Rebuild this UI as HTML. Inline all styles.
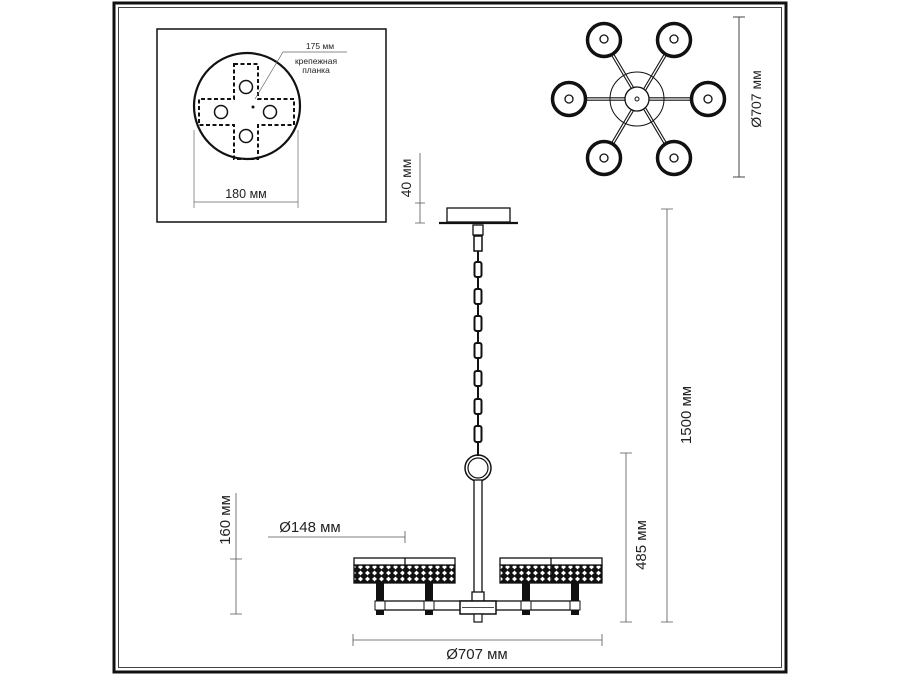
<!DOCTYPE html>
<html><head><meta charset="utf-8"><style>
body{margin:0;background:#fff}
svg{display:block}
text{font-family:"Liberation Sans",sans-serif;fill:#222}
</style></head><body>
<svg width="900" height="675" viewBox="0 0 900 675" xmlns="http://www.w3.org/2000/svg">
<defs>
<pattern id="mesh" width="7" height="6" patternUnits="userSpaceOnUse">
<rect width="7" height="6" fill="#111"/>
<path d="M3.5 0.6 L6 3 L3.5 5.4 L1 3Z" fill="#fff"/>
</pattern>
</defs>
<rect x="114" y="3" width="672" height="669" fill="none" stroke="#111" stroke-width="3"/>
<rect x="118.5" y="7.5" width="663" height="660" fill="none" stroke="#444" stroke-width="1"/>

<rect x="157" y="29" width="229" height="193" fill="none" stroke="#111" stroke-width="1.5"/>
<circle cx="247" cy="106" r="53" fill="none" stroke="#111" stroke-width="2.2"/>
<path d="M234 64 H258 V99 H294 V125 H258 V159 H234 V125 H199 V99 H234 Z" fill="none" stroke="#111" stroke-width="2" stroke-dasharray="4,2.5"/>
<circle cx="246" cy="87" r="6.5" fill="none" stroke="#111" stroke-width="1.5"/>
<circle cx="246" cy="136" r="6.5" fill="none" stroke="#111" stroke-width="1.5"/>
<circle cx="221" cy="112" r="6.5" fill="none" stroke="#111" stroke-width="1.5"/>
<circle cx="270" cy="112" r="6.5" fill="none" stroke="#111" stroke-width="1.5"/>
<circle cx="253" cy="107" r="1.5" fill="#111"/>
<path d="M255 99 L283 52 H347" fill="none" stroke="#666" stroke-width="0.7"/>
<text x="320" y="49" font-size="8.5" text-anchor="middle">175 мм</text>
<text x="316" y="64" font-size="8.5" text-anchor="middle">крепежная</text>
<text x="316" y="73" font-size="8.5" text-anchor="middle">планка</text>
<path d="M194 130 V208 M298 130 V208 M194 202 H298" stroke="#666" stroke-width="0.7"/>
<text x="246" y="198" font-size="12.5" text-anchor="middle">180 мм</text>

<g stroke="#111" fill="none">
<g stroke-width="3.5">
<line x1="604" y1="40" x2="674" y2="158"/><line x1="674" y1="40" x2="604" y2="158"/><line x1="568" y1="99" x2="707" y2="99"/>
</g>
<g stroke="#fff" stroke-width="1.3">
<line x1="604" y1="40" x2="674" y2="158"/><line x1="674" y1="40" x2="604" y2="158"/><line x1="568" y1="99" x2="707" y2="99"/>
</g>
<circle cx="637" cy="99" r="27" stroke-width="1"/>
<circle cx="637" cy="99" r="12" stroke-width="1.3" fill="#fff"/>
<circle cx="637" cy="99" r="2" stroke-width="1"/>
<g stroke-width="3.5" fill="#fff">
<circle cx="604" cy="40" r="16.5"/><circle cx="674" cy="40" r="16.5"/>
<circle cx="569" cy="99" r="16.5"/><circle cx="708" cy="99" r="16.5"/>
<circle cx="604" cy="158" r="16.5"/><circle cx="674" cy="158" r="16.5"/>
</g>
<g stroke-width="1.3">
<circle cx="604" cy="39" r="4"/><circle cx="674" cy="39" r="4"/>
<circle cx="569" cy="99" r="4"/><circle cx="708" cy="99" r="4"/>
<circle cx="604" cy="158" r="4"/><circle cx="674" cy="158" r="4"/>
</g>
<path d="M739 17 V177 M733 17 H745 M733 177 H745" stroke="#444" stroke-width="1"/>
</g>
<text transform="translate(761,99) rotate(-90)" font-size="14" text-anchor="middle">Ø707 мм</text>

<path d="M420 153 V223 M415 203 H425 M415 223 H425" stroke="#555" stroke-width="0.8"/>
<text transform="translate(411,178) rotate(-90)" font-size="14" text-anchor="middle">40 мм</text>
<rect x="447" y="208" width="63" height="14" fill="#fff" stroke="#111" stroke-width="1.3"/>
<line x1="439" y1="223" x2="518" y2="223" stroke="#111" stroke-width="2.2"/>
<rect x="473" y="225" width="10" height="10" fill="#fff" stroke="#111" stroke-width="1.3"/>
<rect x="474" y="236" width="8" height="15" fill="#fff" stroke="#111" stroke-width="1.5"/>
<line x1="478" y1="251" x2="478" y2="456" stroke="#111" stroke-width="2"/>
<g fill="#fff" stroke="#111" stroke-width="2">
<rect x="474.5" y="262" width="7" height="15" rx="2"/>
<rect x="474.5" y="289" width="7" height="15" rx="2"/>
<rect x="474.5" y="316" width="7" height="15" rx="2"/>
<rect x="474.5" y="343" width="7" height="15" rx="2"/>
<rect x="474.5" y="371" width="7" height="15" rx="2"/>
<rect x="474.5" y="399" width="7" height="15" rx="2"/>
<rect x="474.5" y="426" width="7" height="16" rx="2"/>
</g>
<circle cx="478" cy="468" r="13" fill="none" stroke="#111" stroke-width="1.5"/>
<circle cx="478" cy="468" r="10" fill="none" stroke="#111" stroke-width="1.2"/>
<rect x="474" y="480" width="8" height="120" fill="#fff" stroke="#111" stroke-width="1.3"/>
<rect x="472" y="592" width="12" height="10" fill="#fff" stroke="#111" stroke-width="1.3"/>

<rect x="376" y="601" width="202" height="9" fill="#fff" stroke="#111" stroke-width="1.3"/>
<g fill="#111">
<rect x="376" y="583" width="8" height="32"/><rect x="425" y="583" width="8" height="32"/>
<rect x="522" y="583" width="8" height="32"/><rect x="571" y="583" width="8" height="32"/>
</g>
<g fill="#fff" stroke="#111" stroke-width="1">
<rect x="375" y="601" width="10" height="9"/><rect x="424" y="601" width="10" height="9"/>
<rect x="521" y="601" width="10" height="9"/><rect x="570" y="601" width="10" height="9"/>
</g>
<rect x="460" y="601" width="36" height="13" fill="#fff" stroke="#111" stroke-width="1.5"/>
<line x1="462" y1="607.5" x2="494" y2="607.5" stroke="#111" stroke-width="0.8"/>
<rect x="474" y="614" width="8" height="8" fill="#fff" stroke="#111" stroke-width="1.2"/>
<g stroke="#111" stroke-width="1.3">
<rect x="354" y="565" width="101" height="18" fill="url(#mesh)"/>
<rect x="500" y="565" width="102" height="18" fill="url(#mesh)"/>
<rect x="354" y="558" width="101" height="7" fill="#fff"/>
<rect x="500" y="558" width="102" height="7" fill="#fff"/>
<line x1="405" y1="558" x2="405" y2="583"/><line x1="551" y1="558" x2="551" y2="583"/>
</g>

<g stroke="#555" stroke-width="0.8" fill="none">
<path d="M353 640 H602 M353 634 V646 M602 634 V646"/>
<path d="M236 493 V614 M230 559 H242 M230 614 H242"/>
<path d="M268 537 H405 M405 531 V543"/>
<path d="M626 453 V622 M620 453 H632 M620 622 H632"/>
<path d="M667 209 V622 M661 209 H673 M661 622 H673"/>
</g>
<text x="477" y="659" font-size="15" text-anchor="middle">Ø707 мм</text>
<text transform="translate(230,520) rotate(-90)" font-size="15" text-anchor="middle">160 мм</text>
<text x="310" y="532" font-size="15" text-anchor="middle">Ø148 мм</text>
<text transform="translate(646,545) rotate(-90)" font-size="15" text-anchor="middle">485 мм</text>
<text transform="translate(691,415) rotate(-90)" font-size="15" text-anchor="middle">1500 мм</text>
</svg>
</body></html>
